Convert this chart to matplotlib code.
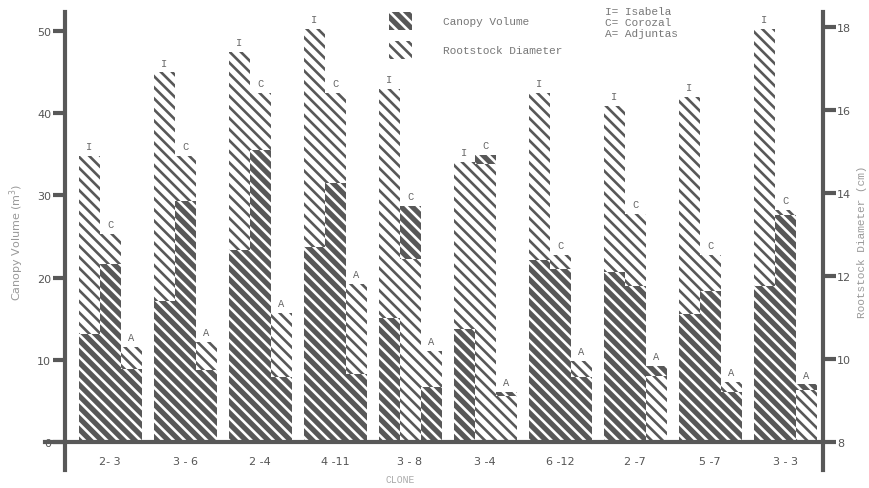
import numpy as np
import matplotlib.pyplot as plt
from matplotlib.patches import Patch

# clones and sites (I = Isabela, C = Corozal, A = Adjuntas)
clones = ['2- 3', '3 - 6', '2 -4', '4 -11', '3 - 8', '3 -4', '6 -12', '2 -7', '5 -7', '3 - 3']
sites = ['I', 'C', 'A']

# canopy volume (m^3), left axis
canopy_I = [13.2, 17.2, 23.3, 23.7, 15.1, 13.8, 22.1, 20.7, 15.6, 19.0]
canopy_C = [21.7, 29.3, 35.5, 31.5, 28.7, 34.9, 21.1, 19.0, 18.4, 27.6]
canopy_A = [8.9, 8.8, 7.9, 8.3, 6.7, 6.1, 7.9, 9.3, 6.1, 7.0]

# rootstock diameter (cm), right axis
diam_I = [14.9, 16.9, 17.4, 17.95, 16.5, 14.75, 16.4, 16.1, 16.3, 17.95]
diam_C = [13.0, 14.9, 16.4, 16.4, 12.4, 14.7, 12.5, 13.5, 12.5, 13.6]
diam_A = [10.3, 10.4, 11.1, 11.8, 10.2, 9.1, 9.95, 9.6, 9.45, 9.25]

canopy = [canopy_I, canopy_C, canopy_A]
diam = [diam_I, diam_C, diam_A]

DARK = '#585858'
MONO = 'Liberation Mono'
HATCH = chr(92) * 3
plt.rcParams['hatch.linewidth'] = 1.9


def cm_to_vol(d):
    return (np.asarray(d, dtype=float) - 8) * 5.05


def vol_to_cm(v):
    return np.asarray(v, dtype=float) / 5.05 + 8


fig = plt.figure(figsize=(8.69, 4.89), dpi=100)
ax = fig.add_axes([0.0748, 0.0368, 0.8723, 0.9366])

x = np.arange(len(clones))
w = 0.28
for k, site in enumerate(sites):
    xs = x + (k - 1) * w
    cv = np.array(canopy[k])
    dv = cm_to_vol(diam[k])
    cb = ax.bar(xs, cv, w, color=DARK, edgecolor='white', linewidth=0,
                hatch=HATCH, zorder=2)
    db = ax.bar(xs, dv, w, color='white', edgecolor=DARK, linewidth=0,
                hatch=HATCH, zorder=2)
    # the shorter of the two bars sits in front
    for pc, pd, c, d, xi in zip(cb, db, cv, dv, xs):
        if c < d:
            pc.set_zorder(3)
        else:
            pd.set_zorder(3)
        ax.text(xi, max(c, d) + 0.6, site, ha='center', va='bottom',
                fontsize=7.5, color='#666', family=MONO)

ax.set_xlim(-0.6, 9.507)
ax.set_ylim(-3.4, 52.3)

for s in ['top', 'right', 'bottom']:
    ax.spines[s].set_visible(False)
ax.spines['left'].set_linewidth(3)
ax.spines['left'].set_color(DARK)
ax.axhline(0, xmin=-0.027, xmax=1, color=DARK, lw=3, clip_on=False, zorder=4)

ax.set_yticks([0, 10, 20, 30, 40, 50])
ax.tick_params(axis='y', length=9, width=3, color=DARK, labelsize=8,
               labelcolor='#555', pad=1)
ax.set_xticks(x, clones)
ax.tick_params(axis='x', length=0, labelsize=8, labelcolor='#555', pad=-10)
ax.set_ylabel('Canopy Volume (m$^3$)', fontsize=8, color='#999', labelpad=8)

sec = ax.secondary_yaxis('right', functions=(vol_to_cm, cm_to_vol))
sec.set_yticks([8, 10, 12, 14, 16, 18])
sec.spines['right'].set_linewidth(3)
sec.spines['right'].set_color(DARK)
sec.tick_params(length=9, width=3, color=DARK, labelsize=8,
                labelcolor='#555', pad=1)
sec.set_ylabel('Rootstock Diameter (cm)', fontsize=8, color='#999',
               family=MONO, labelpad=4)

handles = [Patch(facecolor=DARK, edgecolor='white', linewidth=0, hatch=HATCH),
           Patch(facecolor='white', edgecolor=DARK, linewidth=0, hatch=HATCH)]
leg = ax.legend(handles, ['Canopy Volume', 'Rootstock Diameter'],
                loc='upper left', bbox_to_anchor=(0.428, 1.0), frameon=False,
                borderaxespad=0, borderpad=0, handlelength=2.0,
                handleheight=2.1, handletextpad=2.8, labelspacing=1.0,
                prop={'family': MONO, 'size': 8})
for t in leg.get_texts():
    t.set_color('#777')

fig.text(605 / 869, 1 - 7 / 489, 'I= Isabela\nC= Corozal\nA= Adjuntas',
         va='top', ha='left', fontsize=8, color='#777', family=MONO,
         linespacing=1.15)
fig.text(400 / 869, 1 - 480 / 489, 'CLONE', ha='center', va='center',
         fontsize=7, color='#aaa', family=MONO)

fig.savefig('out.png', dpi=100)
